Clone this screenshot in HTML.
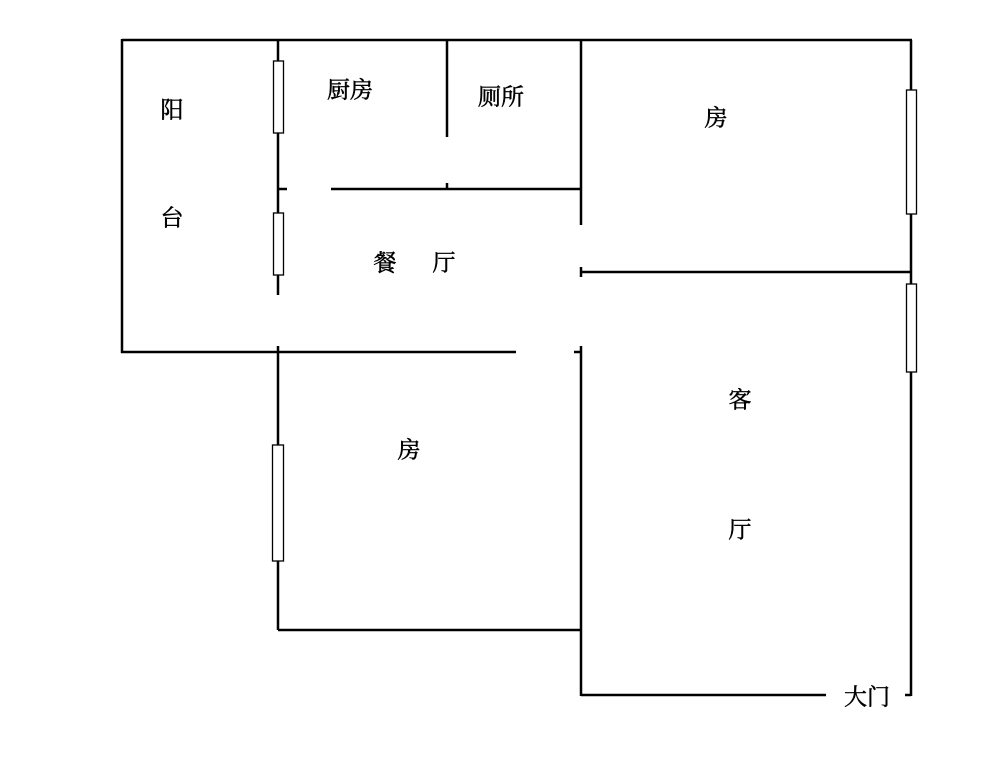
<!DOCTYPE html>
<html><head><meta charset="utf-8"><style>
body{margin:0;background:#fff}
svg text{font-family:"Liberation Serif","Noto Serif CJK SC",serif;font-size:23px;fill:#000;stroke:#000;stroke-width:0.5;text-anchor:middle;dominant-baseline:central}
</style></head><body>
<svg width="1000" height="761" viewBox="0 0 1000 761" xmlns="http://www.w3.org/2000/svg">
<g stroke="#000" stroke-width="2.5" fill="none">
<line x1="122" y1="40" x2="912" y2="40"/>
<line x1="122" y1="39" x2="122" y2="353"/>
<line x1="121" y1="352" x2="516" y2="352"/>
<line x1="278" y1="40" x2="278" y2="295"/>
<line x1="447" y1="40" x2="447" y2="137"/>
<line x1="447" y1="183" x2="447" y2="189"/>
<line x1="278" y1="189" x2="287" y2="189"/>
<line x1="331" y1="189" x2="581" y2="189"/>
<line x1="581" y1="40" x2="581" y2="225"/>
<line x1="581" y1="272" x2="911" y2="272"/>
<line x1="581" y1="267" x2="581" y2="277"/>
<line x1="911" y1="40" x2="911" y2="696"/>
<line x1="905" y1="695" x2="911" y2="695"/>
<line x1="574" y1="352" x2="581" y2="352"/>
<line x1="581" y1="346" x2="581" y2="696"/>
<line x1="581" y1="695" x2="826" y2="695"/>
<line x1="278" y1="346" x2="278" y2="630"/>
<line x1="278" y1="630" x2="581" y2="630"/>
</g>
<g stroke="#000" stroke-width="1.3" fill="#fff">
<rect x="273.5" y="61" width="10" height="72"/>
<rect x="273.5" y="213" width="10" height="62"/>
<rect x="906.5" y="90" width="10" height="124"/>
<rect x="906.5" y="284" width="10" height="88"/>
<rect x="272.5" y="445" width="11" height="116"/>
</g>
<text x="172" y="110">阳</text>
<text x="172" y="218">台</text>
<text x="350" y="90">厨房</text>
<text x="501" y="97">厕所</text>
<text x="716" y="118">房</text>
<text x="385" y="263">餐</text>
<text x="444" y="263">厅</text>
<text x="409" y="450">房</text>
<text x="740" y="400">客</text>
<text x="740" y="530">厅</text>
<text x="867" y="697">大门</text>
</svg>
</body></html>
